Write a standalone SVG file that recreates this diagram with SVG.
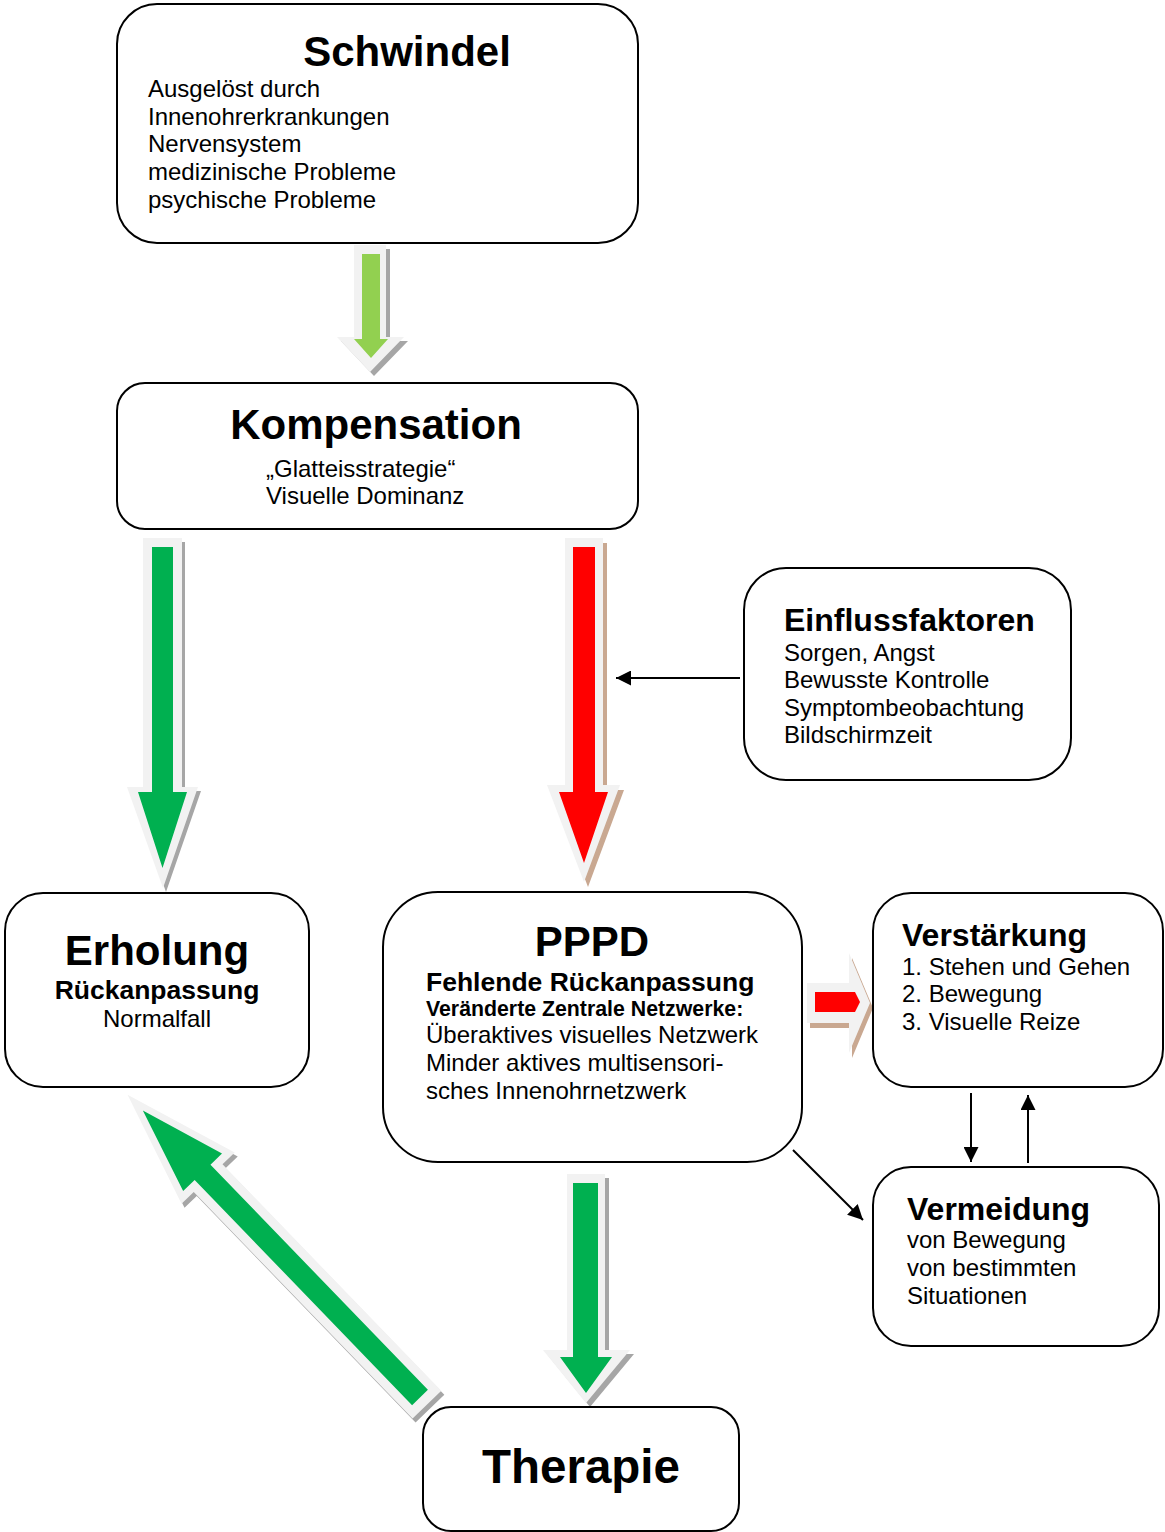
<svg xmlns="http://www.w3.org/2000/svg" width="1165" height="1532" viewBox="0 0 1165 1532">
<style>
.box{fill:#fff;stroke:#000;stroke-width:2}
text{font-family:"Liberation Sans",Arial,sans-serif;fill:#000}
.t{font-weight:bold;font-size:42px}
.h{font-weight:bold;font-size:32px}
.b{font-size:24px}
.sb{font-weight:bold;font-size:26.5px}
.lite{fill:#f2f2f2}
.gs{fill:#a6a6a6}
.rs{fill:#c9a891}
.line{stroke:#000;stroke-width:2;fill:none;marker-end:url(#ah)}
</style>
<defs>
<marker id="ah" viewBox="0 0 10 10" refX="10" refY="5" markerUnits="userSpaceOnUse" markerWidth="16" markerHeight="15" orient="auto">
<path d="M0,0 L10,5 L0,10 Z" fill="#000"/>
</marker>
</defs>
<rect width="1165" height="1532" fill="#fff"/>

<g id="connectors">
  <g id="arrow-schwindel-kompensation">
    <path class="gs" transform="translate(4,4)" d="M354,245 H386 V337 H404 L370,372 L337,337 H354 Z"/>
    <path class="lite" d="M354,245 H386 V337 H404 L370,372 L337,337 H354 Z"/>
    <path fill="#92d050" d="M362,254 H380 V339 H388 L371,358 L354,339 H362 Z"/>
  </g>
  <g id="arrow-kompensation-erholung">
    <path class="gs" transform="translate(3,4)" d="M143,538 H182 V787 H198 L163,888 L127,787 H143 Z"/>
    <path class="lite" d="M143,538 H182 V787 H198 L163,888 L127,787 H143 Z"/>
    <path fill="#00b050" d="M152,547 H173 V792 H187 L162.5,868 L138,792 H152 Z"/>
  </g>
  <g id="arrow-kompensation-pppd">
    <path class="rs" transform="translate(4,5)" d="M565,538 H603 V785 H620 L584,882 L547,785 H565 Z"/>
    <path class="lite" d="M565,538 H603 V785 H620 L584,882 L547,785 H565 Z"/>
    <path fill="#ff0000" d="M573,547 H595 V792 H608 L584,863 L559,792 H573 Z"/>
  </g>
  <g id="arrow-pppd-verstaerkung">
    <path class="rs" transform="translate(3,5)" d="M807,983 H849 V953 L870,1003 L849,1053 V1023 H807 Z"/>
    <path class="lite" d="M807,983 H849 V953 L870,1003 L849,1053 V1023 H807 Z"/>
    <path fill="#ff0000" d="M815,992 H855 L860,1002 L855,1012 H815 Z"/>
  </g>
  <g id="arrow-pppd-therapie">
    <path class="gs" transform="translate(4,4)" d="M567,1174 H605 V1350 H630 L586,1403 L543,1350 H567 Z"/>
    <path class="lite" d="M567,1174 H605 V1350 H630 L586,1403 L543,1350 H567 Z"/>
    <path fill="#00b050" d="M573,1183 H598 V1357 H612 L586,1393 L560,1357 H573 Z"/>
  </g>
  <g id="arrow-therapie-erholung">
    <path class="gs" transform="translate(423,1401.5) rotate(-134)" d="M-10,-20 H305 V-37 L421,0 L305,37 V20 H-10 Z"/>
    <path class="lite" transform="translate(420,1397.5) rotate(-134)" d="M-10,-20 H305 V-37 L421,0 L305,37 V20 H-10 Z"/>
    <path fill="#00b050" transform="translate(420,1397.5) rotate(-134)" d="M0,-11 H313 V-27 L399,0 L313,27 V11 H0 Z"/>
  </g>
  <path class="line" d="M740,678 L616,678"/>
  <path class="line" d="M971,1093 L971,1162"/>
  <path class="line" d="M1028,1163 L1028,1095"/>
  <path class="line" d="M793,1150 L863,1220"/>
</g>

<g id="schwindel">
  <rect class="box" x="117" y="4" width="521" height="239" rx="40"/>
  <text class="t" x="407" y="66" text-anchor="middle">Schwindel</text>
  <text class="b" x="148" y="97">Ausgelöst durch</text>
  <text class="b" x="148" y="125">Innenohrerkrankungen</text>
  <text class="b" x="148" y="152">Nervensystem</text>
  <text class="b" x="148" y="180">medizinische Probleme</text>
  <text class="b" x="148" y="208">psychische Probleme</text>
</g>

<g id="kompensation">
  <rect class="box" x="117" y="383" width="521" height="146" rx="28"/>
  <text class="t" x="376" y="439" text-anchor="middle">Kompensation</text>
  <text class="b" x="266" y="477">„Glatteisstrategie“</text>
  <text class="b" x="266" y="504">Visuelle Dominanz</text>
</g>

<g id="einflussfaktoren">
  <rect class="box" x="744" y="568" width="327" height="212" rx="42"/>
  <text class="h" x="784" y="631">Einflussfaktoren</text>
  <text class="b" x="784" y="661">Sorgen, Angst</text>
  <text class="b" x="784" y="688">Bewusste Kontrolle</text>
  <text class="b" x="784" y="716">Symptombeobachtung</text>
  <text class="b" x="784" y="743">Bildschirmzeit</text>
</g>

<g id="erholung">
  <rect class="box" x="5" y="893" width="304" height="194" rx="38"/>
  <text class="t" x="157" y="965" text-anchor="middle">Erholung</text>
  <text class="sb" x="157" y="999" text-anchor="middle">Rückanpassung</text>
  <text class="b" x="157" y="1027" text-anchor="middle">Normalfall</text>
</g>

<g id="pppd">
  <rect class="box" x="383" y="892" width="419" height="270" rx="55"/>
  <text class="t" x="592" y="956" text-anchor="middle">PPPD</text>
  <text class="sb" x="426" y="991">Fehlende Rückanpassung</text>
  <text x="426" y="1016" font-weight="bold" font-size="21.3px">Veränderte Zentrale Netzwerke:</text>
  <text class="b" x="426" y="1043">Überaktives visuelles Netzwerk</text>
  <text class="b" x="426" y="1071">Minder aktives multisensori-</text>
  <text class="b" x="426" y="1099">sches Innenohrnetzwerk</text>
</g>

<g id="verstaerkung">
  <rect class="box" x="873" y="893" width="290" height="194" rx="38"/>
  <text class="h" x="902" y="946">Verstärkung</text>
  <text class="b" x="902" y="975">1. Stehen und Gehen</text>
  <text class="b" x="902" y="1002">2. Bewegung</text>
  <text class="b" x="902" y="1030">3. Visuelle Reize</text>
</g>

<g id="vermeidung">
  <rect class="box" x="873" y="1167" width="286" height="179" rx="38"/>
  <text class="h" x="907" y="1220">Vermeidung</text>
  <text class="b" x="907" y="1248">von Bewegung</text>
  <text class="b" x="907" y="1276">von bestimmten</text>
  <text class="b" x="907" y="1304">Situationen</text>
</g>

<g id="therapie">
  <rect class="box" x="423" y="1407" width="316" height="124" rx="28"/>
  <text x="581" y="1483" text-anchor="middle" font-weight="bold" font-size="47.5px">Therapie</text>
</g>
</svg>
